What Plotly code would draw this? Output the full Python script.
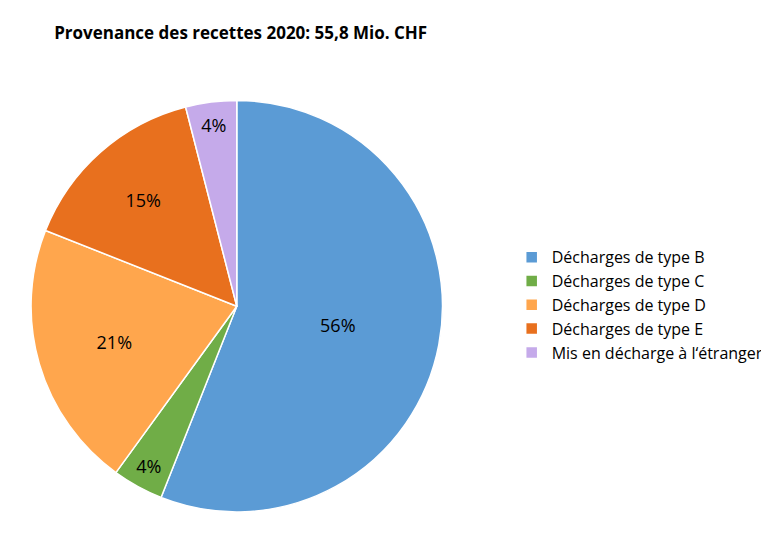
import plotly.graph_objects as go

labels = ["Décharges de type B", "Décharges de type C", "Décharges de type D",
          "Décharges de type E", "Mis en décharge à l‘étranger"]
values = [56, 4, 21, 15, 4]
colors = ["#5B9BD5", "#70AD47", "#FFA64D", "#E8701E", "#C5AAEA"]

fig = go.Figure(go.Pie(
    labels=labels, values=values, sort=False, direction="clockwise", rotation=0,
    marker=dict(colors=colors, line=dict(color="white", width=1.5)),
    texttemplate="%{value}%", textposition="inside", insidetextorientation="horizontal",
    textfont=dict(size=18, color="black"),
    domain=dict(x=[0.03, 0.565], y=[0.095, 0.84]),
))
fig.update_layout(
    width=769, height=560, margin=dict(l=0, r=0, t=0, b=0),
    paper_bgcolor="white", font=dict(family="Open Sans", color="black"),
    title=dict(text="<b>Provenance des recettes 2020: 55,8 Mio. CHF</b>",
               x=0.06, xanchor="left", y=0.955, yanchor="middle", font=dict(size=17)),
    legend=dict(x=0.655, y=0.47, xanchor="left", yanchor="middle",
                font=dict(size=16), tracegroupgap=0, itemwidth=30),
)
fig.write_html("out.html")
